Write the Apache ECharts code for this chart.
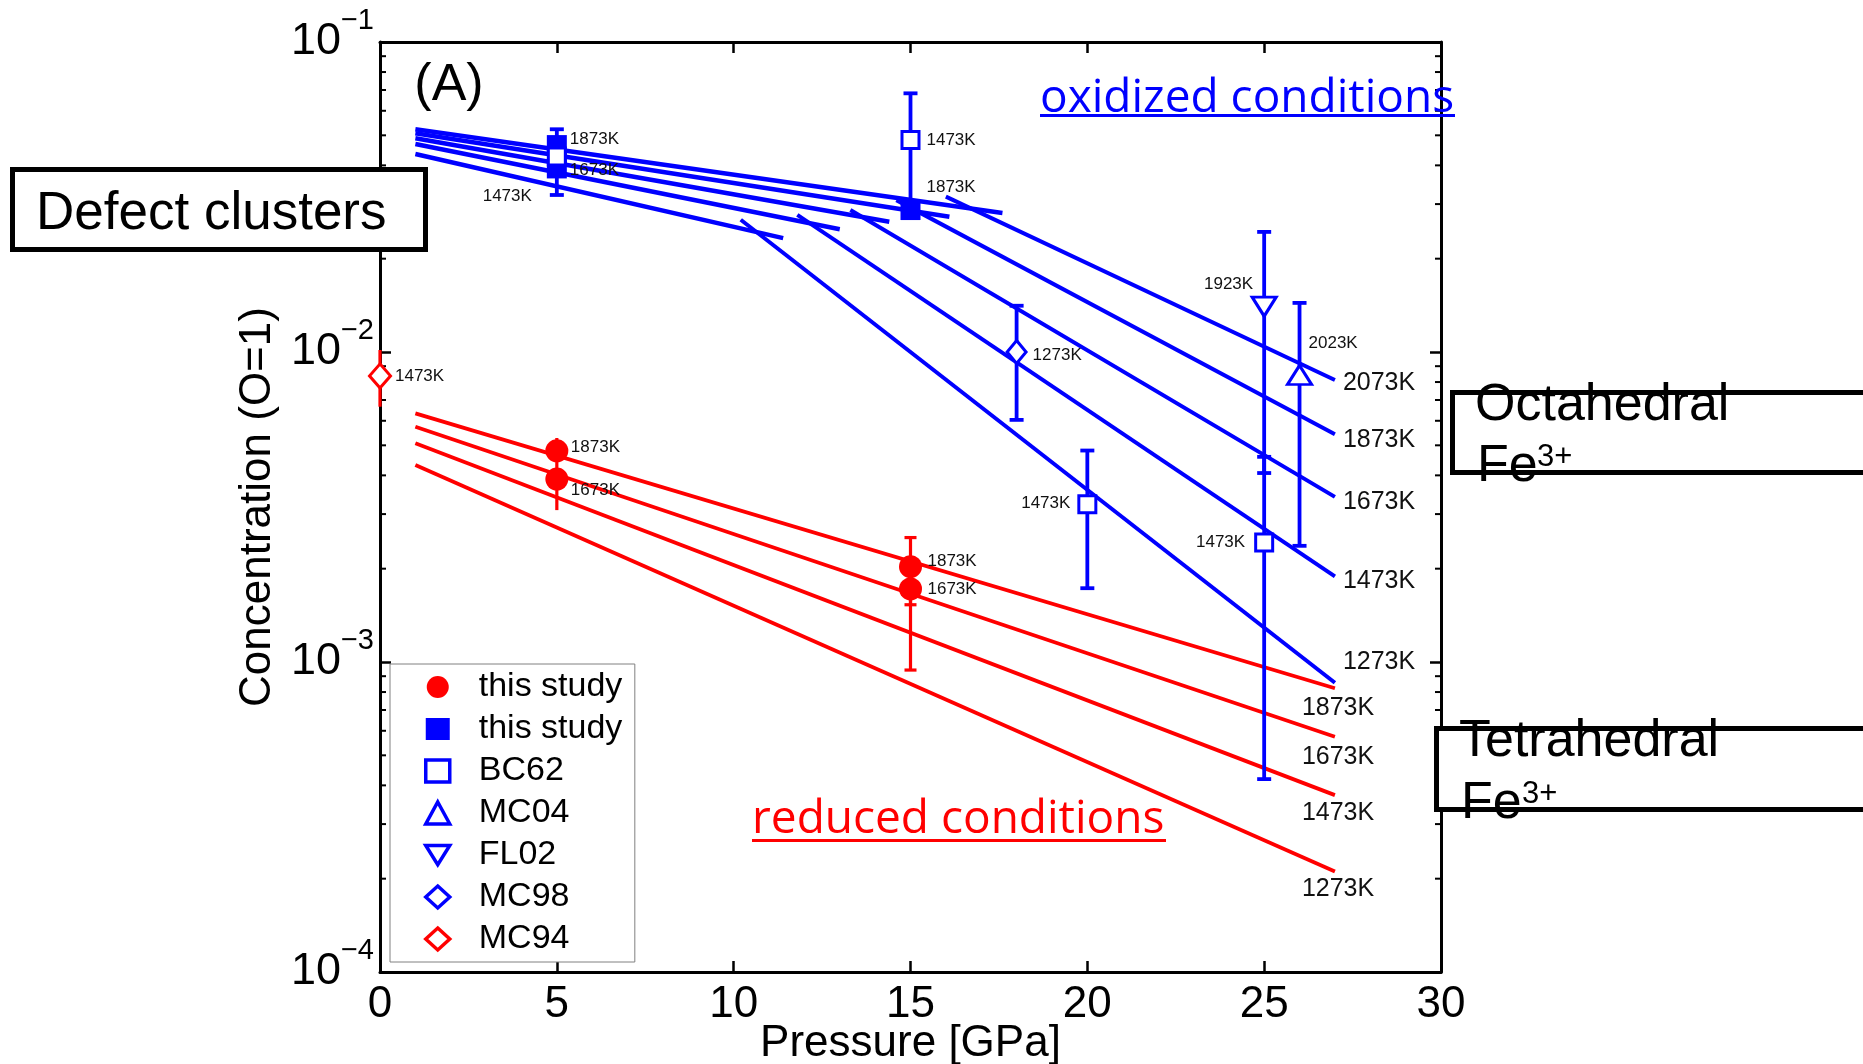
<!DOCTYPE html>
<html>
<head>
<meta charset="utf-8">
<script src="https://cdn.jsdelivr.net/npm/echarts@6/dist/echarts.min.js"></script>
<style>
  html, body { margin: 0; padding: 0; background: #fff; }
  #chart { width: 1863px; height: 1064px; }
</style>
</head>
<body>
<div id="chart"></div>
<script>
// ---------- data (pressure in GPa, concentration relative to O = 1) ----------
const pressureTicks = [0, 5, 10, 15, 20, 25, 30];
const concentrationExponents = [-4, -3, -2, -1];
const minorMultipliers = [2, 3, 4, 5, 6, 7, 8, 9];

// defect-cluster branch (oxidized, low pressure)
const cluster2073K = [[1, 0.0523], [17.6, 0.0281]];
const cluster1873K = [[1, 0.0508], [16.1, 0.0273]];
const cluster1673K = [[1, 0.0489], [14.4, 0.0263]];
const cluster1473K = [[1, 0.0469], [13.0, 0.0249]];
const cluster1273K = [[1, 0.0435], [11.4, 0.0233]];

// octahedral Fe3+ branch (oxidized, high pressure)
const octa2073K = [[16.0, 0.0317], [27, 0.00812]];
const octa1873K = [[14.6, 0.0309], [27, 0.00543]];
const octa1673K = [[13.3, 0.0287], [27, 0.00341]];
const octa1473K = [[11.8, 0.0277], [27, 0.00189]];
const octa1273K = [[10.2, 0.0267], [27, 0.000857]];

// tetrahedral Fe3+ (reduced)
const tetra1873K = [[1, 0.00634], [27, 0.000823]];
const tetra1673K = [[1, 0.00574], [27, 0.000574]];
const tetra1473K = [[1, 0.00508], [27, 0.000372]];
const tetra1273K = [[1, 0.00432], [27, 0.000211]];

// measurements
const thisStudyReduced  = [[5, 0.00480], [5, 0.00389], [15, 0.00203], [15, 0.00172]];
const thisStudyOxidized = [[5, 0.0465], [5, 0.0391], [15, 0.0287]];
const bc62 = [[5, 0.0427], [15, 0.0483], [20, 0.00323], [25, 0.00243]];
const mc04 = [[26, 0.00843]];
const fl02 = [[25, 0.0140]];
const mc98 = [[18, 0.0100]];
const mc94 = [[0, 0.00837]];

// error bars: [pressure, low, high, hasCaps]
const blueErrorBars = [
  [5, 0.0321, 0.0523, 1],
  [15, 0.0300, 0.0683, 1],
  [20, 0.00173, 0.00481, 1],
  [25, 0.000419, 0.00459, 1],
  [25, 0.00407, 0.0244, 1],
  [26, 0.00237, 0.0144, 1],
  [18, 0.00604, 0.0141, 1]
];
const redErrorBars = [
  [5, 0.00309, 0.00528, 0],
  [15, 0.00153, 0.00252, 1],
  [15, 0.000942, 0.00172, 1],
  [0, 0.00666, 0.01015, 0]
];

// ---------- styling ----------
const FONT = "'Liberation Sans', Arial, Helvetica, sans-serif";
const BLUE = '#0000ff';
const RED = '#ff0000';

const minorTickValues = [];
concentrationExponents.slice(0, -1).forEach(e => {
  minorMultipliers.forEach(m => minorTickValues.push([0, m * Math.pow(10, e)]));
});

function curve(name, data, color, width) {
  return {
    type: 'line', name, data, symbol: 'none', silent: true,
    lineStyle: { color, width, opacity: 1 }, itemStyle: { color }, z: 2
  };
}

function errorBars(name, data, color, width, halfCap) {
  return {
    type: 'custom', name, data, silent: true, clip: false, z: 3,
    encode: { x: 0, y: [1, 2] },
    renderItem: function (params, api) {
      const x = api.value(0);
      const lo = api.coord([x, api.value(1)]);
      const hi = api.coord([x, api.value(2)]);
      const st = { stroke: color, lineWidth: width };
      const kids = [{ type: 'line', shape: { x1: lo[0], y1: lo[1], x2: hi[0], y2: hi[1] }, style: st }];
      if (api.value(3)) {
        kids.push({ type: 'line', shape: { x1: lo[0] - halfCap, y1: lo[1], x2: lo[0] + halfCap, y2: lo[1] }, style: st });
        kids.push({ type: 'line', shape: { x1: hi[0] - halfCap, y1: hi[1], x2: hi[0] + halfCap, y2: hi[1] }, style: st });
      }
      return { type: 'group', children: kids };
    }
  };
}

const openStyle = c => ({ color: '#fff', borderColor: c, borderWidth: 3, opacity: 1 });
const solidStyle = c => ({ color: c, opacity: 1 });

const frameLine = { lineStyle: { color: '#000', width: 3 }, onZero: false };
const majorTick = { inside: true, length: 11, lineStyle: { color: '#000', width: 2.5 } };

const option = {
  animation: false,
  backgroundColor: '#fff',
  grid: { left: 380, top: 42, width: 1061, height: 930, containLabel: false, outerBoundsMode: 'none' },
  xAxis: [
    {
      type: 'value', min: pressureTicks[0], max: pressureTicks[pressureTicks.length - 1], interval: 5,
      position: 'bottom', axisLine: frameLine, axisTick: majorTick, splitLine: { show: false },
      axisLabel: { fontSize: 44, color: '#000', margin: 11, fontFamily: FONT },
      name: 'Pressure [GPa]', nameLocation: 'middle', nameGap: 50, nameMoveOverlap: false,
      nameTextStyle: { fontSize: 44, color: '#000', fontFamily: FONT }
    },
    {
      type: 'value', min: pressureTicks[0], max: pressureTicks[pressureTicks.length - 1], interval: 5,
      position: 'top', axisLine: frameLine, axisTick: majorTick, splitLine: { show: false },
      axisLabel: { show: false }
    }
  ],
  yAxis: [
    {
      type: 'log', logBase: 10, min: 1e-4, max: 1e-1, position: 'left',
      axisLine: frameLine, axisTick: majorTick, splitLine: { show: false },
      axisLabel: {
        margin: 6, color: '#000', fontFamily: FONT,
        formatter: v => '{b|10}{e|\u2212' + (-Math.round(Math.log10(v))) + '}',
        rich: {
          b: { fontSize: 45, lineHeight: 72, fontFamily: FONT, color: '#000' },
          e: { fontSize: 29, lineHeight: 29, verticalAlign: 'top', fontFamily: FONT, color: '#000' }
        }
      },
      name: 'Concentration (O=1)', nameLocation: 'middle', nameGap: 92, nameRotate: 90,
      nameTextStyle: { fontSize: 44, color: '#000', fontFamily: FONT }
    },
    {
      type: 'log', logBase: 10, min: 1e-4, max: 1e-1, position: 'right',
      axisLine: frameLine, axisTick: majorTick, splitLine: { show: false },
      axisLabel: { show: false }
    }
  ],
  legend: {
    orient: 'vertical', left: 390, top: 664,
    itemWidth: 24, itemHeight: 22, itemGap: 6,
    padding: [5, 3, 5, 34],
    backgroundColor: '#fff', borderColor: '#808080', borderWidth: 1, borderRadius: 0,
    textStyle: { fontSize: 34, lineHeight: 36, color: '#000', fontFamily: FONT, padding: [0, 0, 0, 24] },
    data: [
      { name: 'this study', itemStyle: { opacity: 1 } },
      { name: 'this study ', itemStyle: { opacity: 1 } },
      { name: 'BC62', itemStyle: { borderWidth: 3.5, opacity: 1 } },
      { name: 'MC04', itemStyle: { borderWidth: 3.5, opacity: 1 } },
      { name: 'FL02', itemStyle: { borderWidth: 3.5, opacity: 1 } },
      { name: 'MC98', itemStyle: { borderWidth: 3.5, opacity: 1 } },
      { name: 'MC94', itemStyle: { borderWidth: 3.5, opacity: 1 } }
    ]
  },
  series: [
    // log-axis minor ticks on both vertical frame edges
    {
      type: 'custom', name: 'minorTicks', data: minorTickValues, silent: true, clip: false, z: 1,
      renderItem: function (params, api) {
        const v = api.value(1);
        const l = api.coord([0, v]);
        const r = api.coord([30, v]);
        const st = { stroke: '#000', lineWidth: 2 };
        return {
          type: 'group', children: [
            { type: 'line', shape: { x1: l[0], y1: l[1], x2: l[0] + 6, y2: l[1] }, style: st },
            { type: 'line', shape: { x1: r[0] - 6, y1: r[1], x2: r[0], y2: r[1] }, style: st }
          ]
        };
      }
    },
    curve('cluster2073K', cluster2073K, BLUE, 4.5),
    curve('cluster1873K', cluster1873K, BLUE, 4.5),
    curve('cluster1673K', cluster1673K, BLUE, 4.5),
    curve('cluster1473K', cluster1473K, BLUE, 4.5),
    curve('cluster1273K', cluster1273K, BLUE, 4.5),
    curve('octa2073K', octa2073K, BLUE, 4),
    curve('octa1873K', octa1873K, BLUE, 4),
    curve('octa1673K', octa1673K, BLUE, 4),
    curve('octa1473K', octa1473K, BLUE, 4),
    curve('octa1273K', octa1273K, BLUE, 4),
    curve('tetra1873K', tetra1873K, RED, 3.8),
    curve('tetra1673K', tetra1673K, RED, 3.8),
    curve('tetra1473K', tetra1473K, RED, 3.8),
    curve('tetra1273K', tetra1273K, RED, 3.8),
    errorBars('blueErrors', blueErrorBars, BLUE, 3.8, 7),
    errorBars('redErrors', redErrorBars, RED, 3.2, 6),
    { type: 'scatter', name: 'this study', data: thisStudyReduced, symbol: 'circle', symbolSize: 23, itemStyle: solidStyle(RED), z: 5 },
    { type: 'scatter', name: 'this study ', data: thisStudyOxidized, symbol: 'rect', symbolSize: 20, itemStyle: solidStyle(BLUE), z: 5 },
    { type: 'scatter', name: 'BC62', data: bc62, symbol: 'rect', symbolSize: 17, itemStyle: openStyle(BLUE), z: 6 },
    { type: 'scatter', name: 'MC04', data: mc04, symbol: 'triangle', symbolSize: [24, 19], itemStyle: openStyle(BLUE), z: 6 },
    { type: 'scatter', name: 'FL02', data: fl02, symbol: 'path://M0,0L20,0L10,16Z', symbolSize: [24, 19], itemStyle: openStyle(BLUE), z: 6 },
    { type: 'scatter', name: 'MC98', data: mc98, symbol: 'diamond', symbolSize: [19, 23], itemStyle: openStyle(BLUE), z: 6 },
    { type: 'scatter', name: 'MC94', data: mc94, symbol: 'diamond', symbolSize: [21, 24], itemStyle: openStyle(RED), z: 6 }
  ]
};

const chart = echarts.init(document.getElementById('chart'), null, { renderer: 'canvas' });
chart.setOption(option);

// ---------- temperature tags anchored to data points ----------
const pointTags = [
  { at: thisStudyOxidized[0], text: '1873K', dx: 13, dy: -6 },
  { at: thisStudyOxidized[1], text: '1673K', dx: 13, dy: 2 },
  { at: bc62[0], text: '1473K', dx: -25, dy: 40, align: 'right' },
  { at: bc62[1], text: '1473K', dx: 16, dy: 0 },
  { at: thisStudyOxidized[2], text: '1873K', dx: 16, dy: -23 },
  { at: fl02[0], text: '1923K', dx: -11, dy: -22, align: 'right' },
  { at: mc04[0], text: '2023K', dx: 9, dy: -32 },
  { at: mc98[0], text: '1273K', dx: 16, dy: 3 },
  { at: bc62[2], text: '1473K', dx: -17, dy: -1, align: 'right' },
  { at: bc62[3], text: '1473K', dx: -19, dy: 0, align: 'right' },
  { at: mc94[0], text: '1473K', dx: 15, dy: 0 },
  { at: thisStudyReduced[0], text: '1873K', dx: 14, dy: -4 },
  { at: thisStudyReduced[1], text: '1673K', dx: 14, dy: 11 },
  { at: thisStudyReduced[2], text: '1873K', dx: 17, dy: -5 },
  { at: thisStudyReduced[3], text: '1673K', dx: 17, dy: 0 }
];
const endTags = [
  { line: octa2073K, text: '2073K', dx: 8, dy: 3 },
  { line: octa1873K, text: '1873K', dx: 8, dy: 6 },
  { line: octa1673K, text: '1673K', dx: 8, dy: 5 },
  { line: octa1473K, text: '1473K', dx: 8, dy: 5 },
  { line: octa1273K, text: '1273K', dx: 8, dy: -21 },
  { line: tetra1873K, text: '1873K', dx: -33, dy: 20 },
  { line: tetra1673K, text: '1673K', dx: -33, dy: 20 },
  { line: tetra1473K, text: '1473K', dx: -33, dy: 18 },
  { line: tetra1273K, text: '1273K', dx: -33, dy: 18 }
];

const toPx = p => chart.convertToPixel({ gridIndex: 0 }, p);
const graphics = [];

function tagText(x, y, text, size, align) {
  graphics.push({
    type: 'text', x, y, z: 50, silent: true,
    style: { text, fill: '#111', font: size + 'px ' + FONT, align: align || 'left', verticalAlign: 'middle' }
  });
}
pointTags.forEach(t => {
  const p = toPx(t.at);
  tagText(p[0] + t.dx, p[1] + t.dy, t.text, 17, t.align);
});
endTags.forEach(t => {
  const p = toPx(t.line[t.line.length - 1]);
  tagText(p[0] + t.dx, p[1] + t.dy, t.text, 25, 'left');
});

// ---------- panel annotations ----------
function plainText(x, y, text, font, fill, align) {
  graphics.push({
    type: 'text', x, y, z: 60, silent: true,
    style: { text, fill: fill || '#000', font, align: align || 'left', verticalAlign: 'middle' }
  });
}
function box(x, y, w, h) {
  graphics.push({
    type: 'rect', z: 55, silent: true,
    shape: { x, y, width: w, height: h },
    style: { fill: '#fff', stroke: '#000', lineWidth: 5 }
  });
}
function underline(x, y, w, color) {
  graphics.push({ type: 'rect', z: 60, silent: true, shape: { x, y, width: w, height: 3 }, style: { fill: color } });
}

plainText(449, 86, '(A)', '52px ' + FONT, '#000', 'center');

plainText(1040, 99, 'oxidized conditions', "46px 'Open Sans', sans-serif", BLUE);
underline(1040, 114, 415, BLUE);
plainText(752, 820, 'reduced conditions', "46px 'Open Sans', sans-serif", RED);
underline(752, 839, 414, RED);

box(12.5, 169.5, 413, 80);
plainText(36, 214, 'Defect clusters', '53px ' + FONT);

box(1452.5, 392.5, 500, 80);
plainText(1475, 406, 'Octahedral', '52px ' + FONT);
plainText(1477, 467, 'Fe', '52px ' + FONT);
plainText(1537, 457, '3+', '31px ' + FONT);

box(1436.5, 728.5, 500, 81);
plainText(1459, 742, 'Tetrahedral', '52px ' + FONT);
plainText(1461, 804, 'Fe', '52px ' + FONT);
plainText(1522, 794, '3+', '31px ' + FONT);

chart.setOption({ graphic: graphics });
</script>
</body>
</html>
